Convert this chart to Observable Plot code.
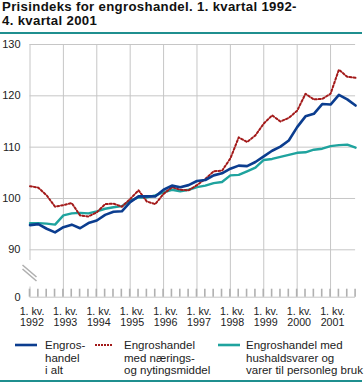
<!DOCTYPE html>
<html><head><meta charset="utf-8">
<script src="https://cdn.jsdelivr.net/npm/d3@7"></script>
<script src="https://cdn.jsdelivr.net/npm/@observablehq/plot@0.6"></script>
<style>
body{margin:0;width:364px;height:382px;position:relative;overflow:hidden;background:#fff;font-family:"Liberation Sans",Arial,sans-serif;color:#222}
#title{position:absolute;left:2px;top:0px;font-weight:bold;font-size:13.2px;letter-spacing:0.33px;line-height:14px;color:#111;white-space:nowrap}
#rule1{position:absolute;left:0;top:32px;width:362px;height:2px;background:#1f8f8f}
#rule2{position:absolute;left:0;top:380px;width:362px;height:2px;background:#1f8f8f}
#chart{position:absolute;left:0;top:34px}
.leg{position:absolute;top:339px;font-size:11.5px;line-height:12.7px;color:#222;white-space:nowrap}
.sw{position:absolute;top:340px}
</style></head>
<body>
<div id="title">Prisindeks for engroshandel. 1. kvartal 1992-<br>4. kvartal 2001</div>
<div id="rule1"></div>
<div id="chart"></div>
<div id="legend"></div>
<div id="rule2"></div>
<script>
const firstYear = 1992;
const yearLabels = ["1992","1993","1994","1995","1996","1997","1998","1999","2000","2001"];
const seriesNames = ["Engros-\nhandel\ni alt", "Engroshandel\nmed nærings-\nog nytingsmiddel", "Engroshandel med\nhushaldsvarer og\nvarer til personleg bruk"];
const seriesColors = ["#0b3d8f", "#a31a1a", "#1fa39e"];
const altValues = [94.8,95.0,94.1,93.4,94.4,94.9,94.2,95.2,95.7,96.8,97.4,97.5,99.3,100.4,100.4,100.4,101.7,102.5,102.2,102.6,103.4,103.6,104.5,104.9,105.8,106.4,106.3,107.1,108.2,109.3,110.1,111.3,113.9,116.0,116.5,118.4,118.3,120.2,119.3,118.1];
const naeringValues = [102.4,102.1,100.6,98.4,98.7,99.1,96.7,96.5,97.3,98.9,99.0,98.4,99.9,101.6,99.4,98.9,100.9,102.2,101.7,101.6,102.6,103.8,105.3,105.4,107.8,111.9,111.0,112.3,114.6,116.2,115.0,115.7,117.1,120.4,119.3,119.4,120.4,125.1,123.7,123.5];
const hushaldValues = [95.2,95.2,95.1,94.9,96.7,97.1,97.2,97.1,97.5,98.0,98.3,98.5,99.6,100.2,100.2,100.6,101.2,101.7,101.4,101.7,102.2,102.5,103.0,103.2,104.5,104.6,105.3,106.0,107.5,107.7,108.1,108.5,108.9,109.0,109.5,109.7,110.2,110.4,110.5,109.9];
const yTicks = [0, 90, 100, 110, 120, 130];

const qx = i => firstYear + i / 4;
const quarters = altValues.map((_, i) => qx(i));
const years = yearLabels.map(Number);
const toRows = arr => arr.map((v, i) => ({x: qx(i), v}));

const W = 364, H = 300, mT = 10, mB = 37.3, mL = 29.5, mR = 8.9;
const grid = "#c6c6c6";

const plot = Plot.plot({
  width: W, height: H,
  marginTop: mT, marginBottom: mB, marginLeft: mL, marginRight: mR,
  style: {fontFamily: "'Liberation Sans', Arial, sans-serif", fontSize: "11px", color: "#222", background: "transparent"},
  x: {type: "linear", domain: [firstYear, qx(altValues.length - 1)], axis: null},
  y: {type: "linear", domain: [0, 90, 130], range: [H - mB, H - mB - 47.4, mT], axis: null},
  marks: [
    Plot.ruleY(yTicks, {stroke: grid, strokeWidth: 1}),
    Plot.ruleX(years, {stroke: grid, strokeWidth: 1}),
    Plot.line(toRows(hushaldValues), {x: "x", y: "v", stroke: seriesColors[2], strokeWidth: 2.4, strokeLinejoin: "round"}),
    Plot.line(toRows(naeringValues), {x: "x", y: "v", stroke: seriesColors[1], strokeWidth: 2, strokeDasharray: "2,2"}),
    Plot.line(toRows(altValues), {x: "x", y: "v", stroke: seriesColors[0], strokeWidth: 2.6, strokeLinejoin: "round"}),
    Plot.axisY({ticks: yTicks, tickSize: 0, tickPadding: 9.5, tickFormat: d => String(d), fontSize: 11, label: null}),
    Plot.text(years, {x: d => d, text: (d, i) => "1. kv.\n" + yearLabels[i], frameAnchor: "bottom", dy: 9.5, dx: 2,
      lineAnchor: "top", lineHeight: 1.05, fontSize: 10.7, fill: "#222"})
  ]
});
document.getElementById("chart").appendChild(plot);

// quarter ticks and axis break, positioned with the plot's own scales
const xsD = plot.scale("x"), ysD = plot.scale("y");
const xs = d3.scaleLinear().domain(xsD.domain).range(xsD.range);
const ys = d3.scaleLinear().domain(ysD.domain).range(ysD.range);
const svg = d3.select(plot);
const y0 = ys(0), y90 = ys(90);
const extra = svg.append("g").attr("id", "extra");
extra.selectAll("line.q").data(quarters).join("line")
  .attr("x1", d => xs(d)).attr("x2", d => xs(d))
  .attr("y1", y0).attr("y2", y0 - 8)
  .style("stroke", "#b0b0b0").style("stroke-width", "1.6px");
const xb = xs(firstYear), ym = (y0 + y90) / 2;
extra.append("line").attr("x1", xb).attr("x2", xb).attr("y1", ym - 13).attr("y2", ym + 13.5)
  .style("stroke", "#fff").style("stroke-width", "4px");
for (const o of [-2, 2]) {
  extra.append("line").attr("x1", xb - 7).attr("x2", xb + 7)
    .attr("y1", ym - 6 + o).attr("y2", ym + 6 + o)
    .style("stroke", "#b0b0b0").style("stroke-width", "1.6px");
}

// legend
const legend = document.getElementById("legend");
const swX = [[15, 37], [95, 112], [218, 240]];
const txX = [45, 124, 246];
seriesNames.forEach((name, s) => {
  const sv = d3.create("svg").attr("class", "sw").attr("width", 30).attr("height", 10)
    .style("left", (swX[s][0] - 2) + "px");
  sv.append("line").attr("x1", 2).attr("x2", 2 + swX[s][1] - swX[s][0]).attr("y1", 5).attr("y2", 5)
    .style("stroke", seriesColors[s]).style("stroke-width", s === 1 ? "2px" : "2.6px")
    .style("stroke-dasharray", s === 1 ? "2,1" : null);
  legend.appendChild(sv.node());
  const t = document.createElement("div");
  t.className = "leg";
  t.style.left = txX[s] + "px";
  t.innerHTML = name.split("\n").join("<br>");
  legend.appendChild(t);
});
</script>
</body></html>
